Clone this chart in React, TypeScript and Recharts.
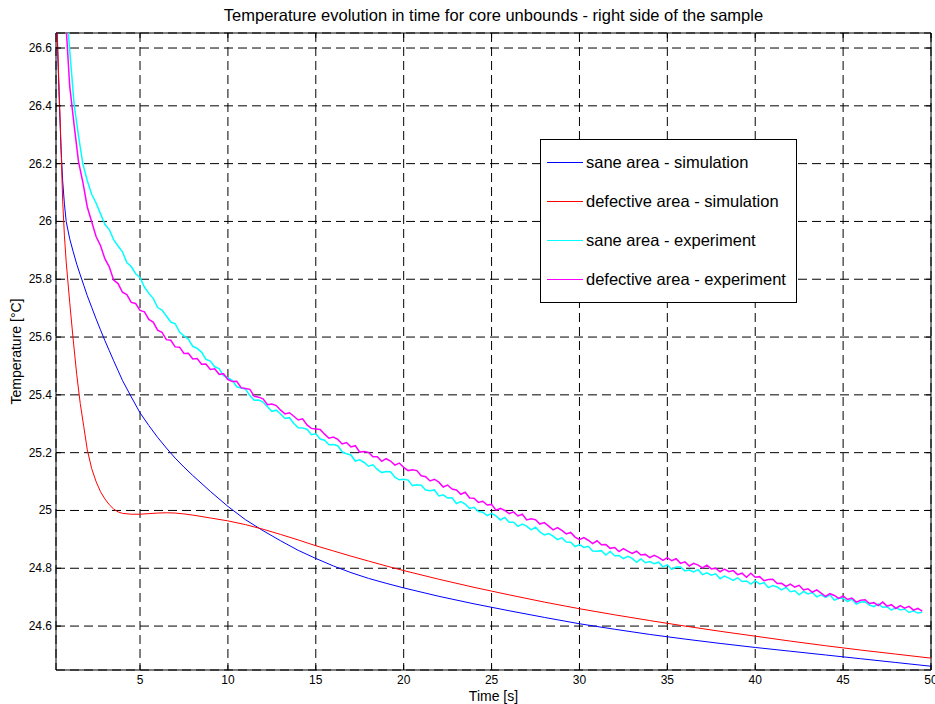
import React from 'react';
import { LineChart, Line, XAxis, YAxis, CartesianGrid, ReferenceArea } from 'recharts';

// ---- layout -------------------------------------------------------------
const WIDTH = 935;
const HEIGHT = 704;
const PLOT = { left: 56, right: 931, top: 33, bottom: 670 };
const FONT = '"Liberation Sans", Arial, Helvetica, sans-serif';

// ---- axes ---------------------------------------------------------------
const X_DOMAIN: [number, number] = [0.22, 50];
const Y_DOMAIN: [number, number] = [24.448, 26.652];
const X_TICKS = [5, 10, 15, 20, 25, 30, 35, 40, 45, 50];
const Y_TICKS = [24.6, 24.8, 25, 25.2, 25.4, 25.6, 25.8, 26, 26.2, 26.4, 26.6];

const TITLE = 'Temperature evolution in time for core unbounds - right side of the sample';
const X_LABEL = 'Time [s]';
const Y_LABEL = 'Temperature [°C]';

// ---- series -------------------------------------------------------------
const SERIES_NAMES = [
  'sane area - simulation',
  'defective area - simulation',
  'sane area - experiment',
  'defective area - experiment',
];
const SERIES_COLORS = ['#0000ff', '#ff0000', '#00ffff', '#ff00ff'];
// measured signals are noisy and read as a slightly heavier trace
const SERIES_WIDTHS = [1, 1, 1.5, 1.5];

// simulation output times [s]
const simTime = [
  0.25, 0.3, 0.4, 0.5, 0.6, 0.7, 0.8, 0.9, 1.0,
  1.2, 1.4, 1.6, 1.8, 2.0,
  2.25, 2.5, 2.75, 3.0, 3.25, 3.5, 3.75, 4.0,
  4.5, 5.0, 5.5, 6.0, 6.5, 7.0, 7.5, 8.0,
  9, 10, 11, 12, 13, 14, 15, 16, 17, 18, 19, 20,
  22, 24, 26, 28, 30, 32, 34, 36, 38, 40, 42, 44, 46, 48, 50,
];

// sane area - simulation [°C]
const saneSim = [
  26.74, 26.62, 26.43, 26.26, 26.14, 26.06, 26.0, 25.97, 25.94,
  25.895, 25.852, 25.815, 25.779, 25.743,
  25.703, 25.663, 25.625, 25.588, 25.553, 25.518, 25.484, 25.45,
  25.393, 25.338, 25.294, 25.253, 25.216, 25.181, 25.15, 25.121,
  25.066, 25.014, 24.968, 24.93, 24.895, 24.862, 24.834, 24.808, 24.785, 24.765, 24.748, 24.732,
  24.703, 24.677, 24.653, 24.63, 24.608, 24.589, 24.571, 24.555, 24.54, 24.526, 24.513, 24.5, 24.487, 24.474, 24.461,
];

// defective area - simulation [°C]
const defectSim = [
  26.74, 26.64, 26.45, 26.27, 26.07, 25.95, 25.86, 25.79, 25.72,
  25.59, 25.47, 25.37, 25.29, 25.21,
  25.145, 25.1, 25.065, 25.04, 25.02, 25.005, 24.995, 24.99,
  24.987, 24.987, 24.989, 24.991, 24.992, 24.991, 24.988, 24.984,
  24.974, 24.964, 24.951, 24.935, 24.917, 24.898, 24.878, 24.86, 24.842, 24.825, 24.808, 24.792,
  24.762, 24.734, 24.708, 24.683, 24.66, 24.639, 24.619, 24.6, 24.582, 24.565, 24.548, 24.532, 24.517, 24.503, 24.489,
];

// measurements: first sample time and sampling period [s]
const EXP_T0 = 0.75;
const EXP_DT = 0.25;

// sane area - experiment [°C]
const saneExp = [
  26.780, 26.592, 26.406, 26.296, 26.198, 26.141, 26.094, 26.064, 26.027, 25.990,
  25.972, 25.937, 25.915, 25.895, 25.858, 25.844, 25.819, 25.806, 25.773, 25.751,
  25.734, 25.702, 25.693, 25.673, 25.652, 25.646, 25.617, 25.604, 25.593, 25.568,
  25.561, 25.548, 25.523, 25.517, 25.497, 25.491, 25.466, 25.459,
  25.450, 25.428, 25.424, 25.420, 25.398, 25.381, 25.382, 25.375, 25.359, 25.343,
  25.347, 25.334, 25.318, 25.321, 25.301, 25.286, 25.285, 25.281, 25.262, 25.265,
  25.247, 25.243, 25.227, 25.228, 25.224, 25.203, 25.196, 25.192, 25.171, 25.175,
  25.166, 25.153, 25.158, 25.142, 25.131, 25.135, 25.134, 25.115, 25.106, 25.108,
  25.105, 25.086, 25.089, 25.087, 25.071, 25.068, 25.071, 25.050, 25.054, 25.043,
  25.044, 25.024, 25.031, 25.022, 25.007, 25.011, 24.996, 24.994, 24.982, 24.990,
  24.981, 24.967, 24.976, 24.959, 24.959, 24.945, 24.953, 24.946, 24.933, 24.942,
  24.926, 24.915, 24.920, 24.911, 24.899, 24.905, 24.891, 24.890, 24.875, 24.882,
  24.872, 24.876, 24.860, 24.859, 24.861, 24.846, 24.858, 24.843, 24.844, 24.833,
  24.841, 24.834, 24.821, 24.832, 24.819, 24.823, 24.816, 24.821, 24.805, 24.812,
  24.796, 24.804, 24.804, 24.791, 24.794, 24.787, 24.795, 24.778, 24.784, 24.776,
  24.781, 24.764, 24.773, 24.766, 24.758, 24.767, 24.754, 24.756, 24.745, 24.756,
  24.746, 24.750, 24.733, 24.740, 24.735, 24.725, 24.734, 24.719, 24.722, 24.708,
  24.720, 24.711, 24.716, 24.701, 24.708, 24.699, 24.708, 24.690, 24.696, 24.696,
  24.685, 24.693, 24.676, 24.683, 24.684, 24.673, 24.667, 24.677, 24.665, 24.667,
  24.655, 24.664, 24.656, 24.659, 24.647, 24.653, 24.645, 24.648,
];

// defective area - experiment [°C]
const defectExp = [
  26.720, 26.468, 26.334, 26.207, 26.135, 26.050, 25.999, 25.948, 25.917, 25.871,
  25.843, 25.797, 25.785, 25.755, 25.747, 25.720, 25.716, 25.692, 25.687, 25.661,
  25.652, 25.624, 25.616, 25.591, 25.589, 25.566, 25.565, 25.543, 25.544, 25.524,
  25.526, 25.506, 25.507, 25.488, 25.490, 25.471, 25.473, 25.453,
  25.446, 25.447, 25.425, 25.422, 25.419, 25.395, 25.392, 25.386, 25.366, 25.368,
  25.363, 25.347, 25.334, 25.338, 25.326, 25.313, 25.317, 25.296, 25.284, 25.282,
  25.280, 25.264, 25.250, 25.254, 25.246, 25.230, 25.235, 25.220, 25.224, 25.202,
  25.204, 25.201, 25.186, 25.186, 25.170, 25.179, 25.171, 25.157, 25.164, 25.149,
  25.138, 25.141, 25.138, 25.120, 25.117, 25.102, 25.108, 25.098, 25.081, 25.088,
  25.074, 25.071, 25.056, 25.063, 25.043, 25.042, 25.028, 25.032, 25.019, 25.021,
  25.001, 25.007, 25.000, 24.989, 24.995, 24.981, 24.987, 24.967, 24.971, 24.968,
  24.953, 24.958, 24.946, 24.933, 24.941, 24.931, 24.919, 24.924, 24.908, 24.899,
  24.906, 24.897, 24.885, 24.895, 24.881, 24.882, 24.869, 24.872, 24.858, 24.868,
  24.859, 24.851, 24.859, 24.846, 24.848, 24.837, 24.845, 24.838, 24.827, 24.837,
  24.826, 24.833, 24.817, 24.822, 24.808, 24.817, 24.811, 24.801, 24.811, 24.798,
  24.800, 24.788, 24.797, 24.788, 24.792, 24.778, 24.783, 24.769, 24.783, 24.769,
  24.771, 24.757, 24.761, 24.762, 24.747, 24.748, 24.737, 24.745, 24.735, 24.741,
  24.725, 24.729, 24.717, 24.725, 24.714, 24.703, 24.712, 24.706, 24.696, 24.704,
  24.692, 24.697, 24.683, 24.689, 24.691, 24.678, 24.681, 24.671, 24.683, 24.669,
  24.674, 24.661, 24.671, 24.662, 24.668, 24.655, 24.661, 24.652,
];

// ---- table building -----------------------------------------------------
const toSimRows = (values: number[]) => values.map((v, i) => ({ t: simTime[i], v }));
const toExpRows = (values: number[]) =>
  values.map((v, i) => ({ t: +(EXP_T0 + i * EXP_DT).toFixed(2), v }));

const seriesData = [
  toSimRows(saneSim),
  toSimRows(defectSim),
  toExpRows(saneExp),
  toExpRows(defectExp),
];

const fmtY = (v: number) => String(Number(v.toFixed(1)));

// ---- ticks (inward, on all four sides) ---------------------------------
const XTick = (props: any) => {
  const { x, payload } = props;
  return (
    <g>
      <line x1={x} x2={x} y1={PLOT.bottom} y2={PLOT.bottom - 5} stroke="#000" />
      <line x1={x} x2={x} y1={PLOT.top} y2={PLOT.top + 5} stroke="#000" />
      <text
        x={x}
        y={PLOT.bottom + 14}
        textAnchor="middle"
        fontSize={12}
        fontFamily={FONT}
        fill="#000"
      >
        {payload.value}
      </text>
    </g>
  );
};

const YTick = (props: any) => {
  const { y, payload } = props;
  return (
    <g>
      <line x1={PLOT.left} x2={PLOT.left + 5} y1={y} y2={y} stroke="#000" />
      <line x1={PLOT.right} x2={PLOT.right - 5} y1={y} y2={y} stroke="#000" />
      <text
        x={PLOT.left - 4}
        y={y + 4}
        textAnchor="end"
        fontSize={12}
        fontFamily={FONT}
        fill="#000"
      >
        {fmtY(payload.value)}
      </text>
    </g>
  );
};

// ---- legend box ---------------------------------------------------------
const LEGEND = { x: 540, y: 139, w: 256, h: 163, rowGap: 39, first: 23 };

const LegendBox = () => (
  <g>
    <rect
      x={LEGEND.x + 0.5}
      y={LEGEND.y + 0.5}
      width={LEGEND.w}
      height={LEGEND.h}
      fill="#fff"
      stroke="#000"
    />
    {SERIES_NAMES.map((name, i) => {
      const cy = LEGEND.y + LEGEND.first + i * LEGEND.rowGap;
      return (
        <g key={name}>
          <line
            x1={LEGEND.x + 7}
            x2={LEGEND.x + 43}
            y1={cy + 0.5}
            y2={cy + 0.5}
            stroke={SERIES_COLORS[i]}
            strokeWidth={1.2}
          />
          <text
            x={LEGEND.x + 46}
            y={cy + 6}
            fontSize={16.5}
            fontFamily={FONT}
            fill="#000"
          >
            {name}
          </text>
        </g>
      );
    })}
  </g>
);

export default function App() {
  const cx = (PLOT.left + PLOT.right) / 2;
  const cy = (PLOT.top + PLOT.bottom) / 2;
  return (
    <div
      style={{
        position: 'absolute',
        left: 0,
        top: 0,
        width: WIDTH,
        height: HEIGHT,
        background: '#fff',
        overflow: 'hidden',
      }}
    >
      <LineChart
        width={WIDTH}
        height={HEIGHT}
        margin={{ top: PLOT.top, right: WIDTH - PLOT.right, bottom: 0, left: 0 }}
      >
        <CartesianGrid stroke="#000" strokeDasharray="9 5" strokeWidth={1} />
        <XAxis
          type="number"
          dataKey="t"
          domain={X_DOMAIN}
          ticks={X_TICKS}
          allowDataOverflow
          height={HEIGHT - PLOT.bottom}
          tickSize={0}
          tickMargin={0}
          tickLine={false}
          axisLine={false}
          tick={<XTick />}
          interval={0}
        />
        <YAxis
          type="number"
          domain={Y_DOMAIN}
          ticks={Y_TICKS}
          allowDataOverflow
          width={PLOT.left}
          tickSize={0}
          tickMargin={0}
          tickLine={false}
          axisLine={false}
          tick={<YTick />}
          interval={0}
        />
        {seriesData.map((rows, i) => (
          <Line
            key={SERIES_NAMES[i]}
            data={rows}
            dataKey="v"
            name={SERIES_NAMES[i]}
            type="linear"
            stroke={SERIES_COLORS[i]}
            strokeWidth={SERIES_WIDTHS[i]}
            dot={false}
            activeDot={false}
            isAnimationActive={false}
          />
        ))}
        <ReferenceArea
          x1={X_DOMAIN[0]}
          x2={X_DOMAIN[1]}
          y1={Y_DOMAIN[0]}
          y2={Y_DOMAIN[1]}
          fill="none"
          stroke="#000"
          strokeWidth={1}
          ifOverflow="visible"
        />
      </LineChart>
      <svg
        width={WIDTH}
        height={HEIGHT}
        style={{ position: 'absolute', left: 0, top: 0, pointerEvents: 'none' }}
      >
        <text
          x={cx}
          y={21}
          textAnchor="middle"
          fontSize={16.5}
          fontFamily={FONT}
          fill="#000"
        >
          {TITLE}
        </text>
        <text
          x={cx}
          y={701}
          textAnchor="middle"
          fontSize={14}
          fontFamily={FONT}
          fill="#000"
        >
          {X_LABEL}
        </text>
        <text
          x={21}
          y={cy}
          textAnchor="middle"
          fontSize={14}
          fontFamily={FONT}
          fill="#000"
          transform={`rotate(-90 21 ${cy})`}
        >
          {Y_LABEL}
        </text>
        <LegendBox />
      </svg>
    </div>
  );
}
